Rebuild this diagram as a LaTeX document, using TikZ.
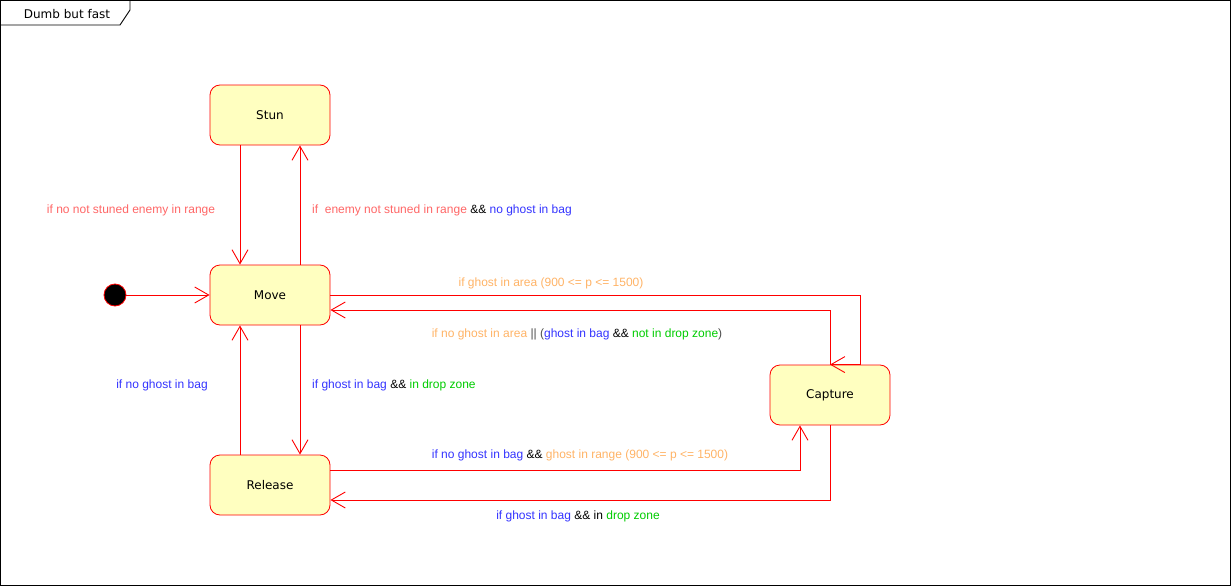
\documentclass[tikz,border=0pt]{standalone}
\usepackage{fontspec}
\setmainfont{Liberation Sans}
\newfontfamily\nodefont{DejaVu Sans}
\usetikzlibrary{arrows.meta}
\definecolor{edgered}{HTML}{FF0000}
\definecolor{boxfill}{HTML}{FFFFC0}
\definecolor{lblpink}{HTML}{FF6666}
\definecolor{lblblue}{HTML}{3333FF}
\definecolor{lblorange}{HTML}{FFB366}
\definecolor{lblgreen}{HTML}{00CC00}
\tikzset{
  statebox/.style={draw=edgered, fill=boxfill, rounded corners=10pt, minimum width=120pt, minimum height=60pt, inner sep=0pt, font=\nodefont\fontsize{12}{14}\selectfont, line width=0.8pt},
  trans/.style={draw=edgered, line width=0.9pt, -{Straight Barb[length=14pt, width=16pt, line width=0.9pt]}},
  lbl/.style={inner sep=0pt, font=\fontsize{12}{14}\selectfont},
}
\begin{document}
\begin{tikzpicture}[x=1pt, y=-1pt]
\useasboundingbox (0,0) rectangle (1231,586);
% frame
\draw[black, line width=0.9pt] (0.5,0.5) rectangle (1230.5,585.5);
\draw[black, line width=0.9pt] (0.5,25) -- (120,25) -- (130,10) -- (130,0.5);
\node[inner sep=0pt, font=\nodefont\fontsize{12}{14}\selectfont] (title) at (67,14) {Dumb but fast};
% states
\node[statebox] (stun) at (270,115) {\raisebox{-1pt}{Stun}};
\node[statebox] (move) at (270,295) {\raisebox{-1pt}{Move}};
\node[statebox] (release) at (270,485) {\raisebox{-1pt}{Release}};
\node[statebox] (capture) at (830,395) {\raisebox{-1pt}{Capture}};
\node[circle, draw=edgered, fill=black, minimum size=22pt, inner sep=0pt, line width=0.8pt] (init) at (115,295) {};
% transitions
\draw[trans] (init) -- (move.west);
\draw[trans] ([xshift=-30pt]stun.south) -- ([xshift=-30pt]move.north);
\draw[trans] ([xshift=30pt]move.north) -- ([xshift=30pt]stun.south);
\draw[trans] ([xshift=30pt]move.south) -- ([xshift=30pt]release.north);
\draw[trans] ([xshift=-30pt]release.north) -- ([xshift=-30pt]move.south);
\draw[trans] (move.east) -| ([xshift=30pt]capture.north) -- (capture.north);
\draw[trans] (capture.north) |- ([yshift=-15pt]move.east);
\draw[trans] ([yshift=15pt]release.east) -| ([xshift=-30pt]capture.south);
\draw[trans] (capture.south) |- ([yshift=-15pt]release.east);
% labels
\node[lbl, text=lblpink] (l1) at (131,210) {if no not stuned enemy in range};
\node[lbl, anchor=west] (l2) at (312,210) {\textcolor{lblpink}{if\ \ enemy not stuned in range} \textcolor{black}{\&\&} \textcolor{lblblue}{no ghost in bag}};
\node[lbl, text=lblorange] (l3) at (551,283) {if ghost in area (900 <= p <= 1500)};
\node[lbl] (l4) at (577,334) {\textcolor{lblorange}{if no ghost in area} \textcolor{black!70}{||} \textcolor{black!70}{(}\textcolor{lblblue}{ghost in bag} \textcolor{black}{\&\&} \textcolor{lblgreen}{not in drop zone}\textcolor{black!70}{)}};
\node[lbl, text=lblblue] (l5) at (162,385) {if no ghost in bag};
\node[lbl, anchor=west] (l6) at (312,385) {\textcolor{lblblue}{if ghost in bag} \textcolor{black}{\&\&} \textcolor{lblgreen}{in drop zone}};
\node[lbl] (l7) at (580,455) {\textcolor{lblblue}{if no ghost in bag} \textcolor{black}{\&\&} \textcolor{lblorange}{ghost in range (900 <= p <= 1500)}};
\node[lbl] (l8) at (578,516) {\textcolor{lblblue}{if ghost in bag} \textcolor{black}{\&\& in} \textcolor{lblgreen}{drop zone}};
\end{tikzpicture}
\end{document}
